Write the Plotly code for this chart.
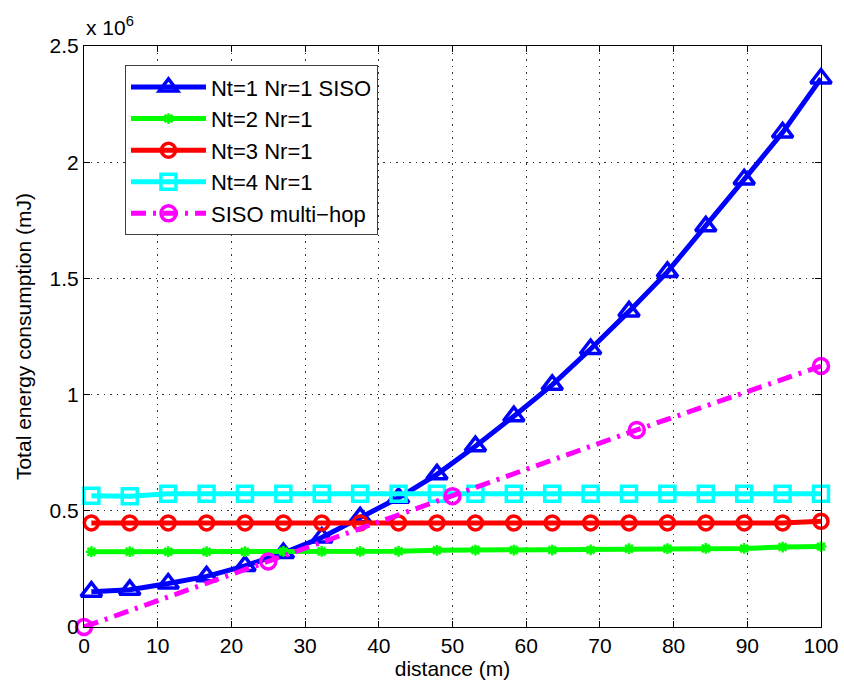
import plotly.graph_objects as go

# distance samples (m)
distance = [1.0, 6.21, 11.42, 16.63, 21.84, 27.05, 32.26, 37.47, 42.68, 47.89,
            53.11, 58.32, 63.53, 68.74, 73.95, 79.16, 84.37, 89.58, 94.79, 100.0]
multihop_distance = [0, 25, 50, 75, 100]

# energy values in units of 1e6 mJ
siso = [0.152, 0.160, 0.187, 0.218, 0.263, 0.318, 0.385, 0.472, 0.556, 0.657,
        0.778, 0.907, 1.042, 1.196, 1.358, 1.528, 1.724, 1.926, 2.128, 2.360]
nt2 = [0.324, 0.324, 0.324, 0.324, 0.324, 0.325, 0.325, 0.325, 0.326, 0.330,
       0.331, 0.331, 0.331, 0.332, 0.337, 0.337, 0.338, 0.338, 0.344, 0.346]
nt3 = [0.448, 0.448, 0.448, 0.448, 0.448, 0.448, 0.448, 0.448, 0.448, 0.448,
       0.448, 0.448, 0.448, 0.448, 0.448, 0.448, 0.448, 0.448, 0.448, 0.455]
nt4 = [0.565, 0.563, 0.573, 0.573, 0.573, 0.573, 0.573, 0.573, 0.573, 0.573,
       0.573, 0.573, 0.573, 0.573, 0.573, 0.573, 0.573, 0.573, 0.573, 0.573]
multihop = [0.0, 0.282, 0.563, 0.848, 1.123]

x_ticks = [0, 10, 20, 30, 40, 50, 60, 70, 80, 90, 100]
y_ticks = [0, 0.5, 1, 1.5, 2, 2.5]
y_ticklabels = ["0", "0.5", "1", "1.5", "2", "2.5"]

FONT = "Liberation Sans, Arial, sans-serif"

fig = go.Figure()
fig.add_trace(go.Scatter(
    x=distance, y=siso, name="Nt=1 Nr=1 SISO", mode="lines+markers", cliponaxis=False,
    line=dict(color="#0000ff", width=5),
    marker=dict(symbol="triangle-up-open", size=18, color="#0000ff",
                line=dict(width=3.5, color="#0000ff"))))
fig.add_trace(go.Scatter(
    x=distance, y=nt2, name="Nt=2 Nr=1", mode="lines+markers", cliponaxis=False,
    line=dict(color="#00ff00", width=5),
    marker=dict(symbol="asterisk-open", size=9, color="#00ff00",
                line=dict(width=2.5, color="#00ff00"))))
fig.add_trace(go.Scatter(
    x=distance, y=nt3, name="Nt=3 Nr=1", mode="lines+markers", cliponaxis=False,
    line=dict(color="#ff0000", width=5),
    marker=dict(symbol="circle-open", size=14, color="#ff0000",
                line=dict(width=3.5, color="#ff0000"))))
fig.add_trace(go.Scatter(
    x=distance, y=nt4, name="Nt=4 Nr=1", mode="lines+markers", cliponaxis=False,
    line=dict(color="#00ffff", width=5),
    marker=dict(symbol="square-open", size=15, color="#00ffff",
                line=dict(width=3.5, color="#00ffff"))))
fig.add_trace(go.Scatter(
    x=multihop_distance, y=multihop, name="SISO multi\u2212hop", mode="lines+markers",
    cliponaxis=False,
    line=dict(color="#ff00ff", width=5, dash="15px,7px,3px,7px"),
    marker=dict(symbol="circle-open", size=15, color="#ff00ff",
                line=dict(width=3.5, color="#ff00ff"))))

axis_common = dict(
    showline=True, linecolor="black", linewidth=1, mirror="ticks",
    ticks="inside", ticklen=6, tickcolor="black",
    showgrid=True, gridcolor="#333333", gridwidth=1, griddash="1.5px,5px",
    zeroline=False, automargin=False,
    tickfont=dict(family=FONT, size=21, color="black"),
)

fig.update_xaxes(range=[0, 100], tickvals=x_ticks,
                 title=dict(text="distance (m)", font=dict(family=FONT, size=21, color="black"), standoff=3),
                 **axis_common)
fig.update_yaxes(range=[0, 2.5], tickvals=y_ticks, ticktext=y_ticklabels,
                 title=dict(text="Total energy consumption (mJ)", font=dict(family=FONT, size=21, color="black"), standoff=12),
                 **axis_common)

fig.add_annotation(text="x 10<sup>6</sup>", xref="paper", yref="paper", x=0, y=1.0,
                   xanchor="left", yanchor="bottom", showarrow=False, yshift=5,
                   font=dict(family=FONT, size=21, color="black"))

fig.update_layout(
    width=844, height=685,
    margin=dict(l=84, r=23, t=46, b=58),
    paper_bgcolor="white", plot_bgcolor="white",
    font=dict(family=FONT, size=21, color="black"),
    legend=dict(x=0.0556, y=0.967, xanchor="left", yanchor="top",
                bgcolor="white", bordercolor="#404040", borderwidth=1,
                font=dict(family=FONT, size=22, color="black"),
                itemwidth=75, tracegroupgap=0),
    showlegend=True,
)

fig.write_html("out.html")
